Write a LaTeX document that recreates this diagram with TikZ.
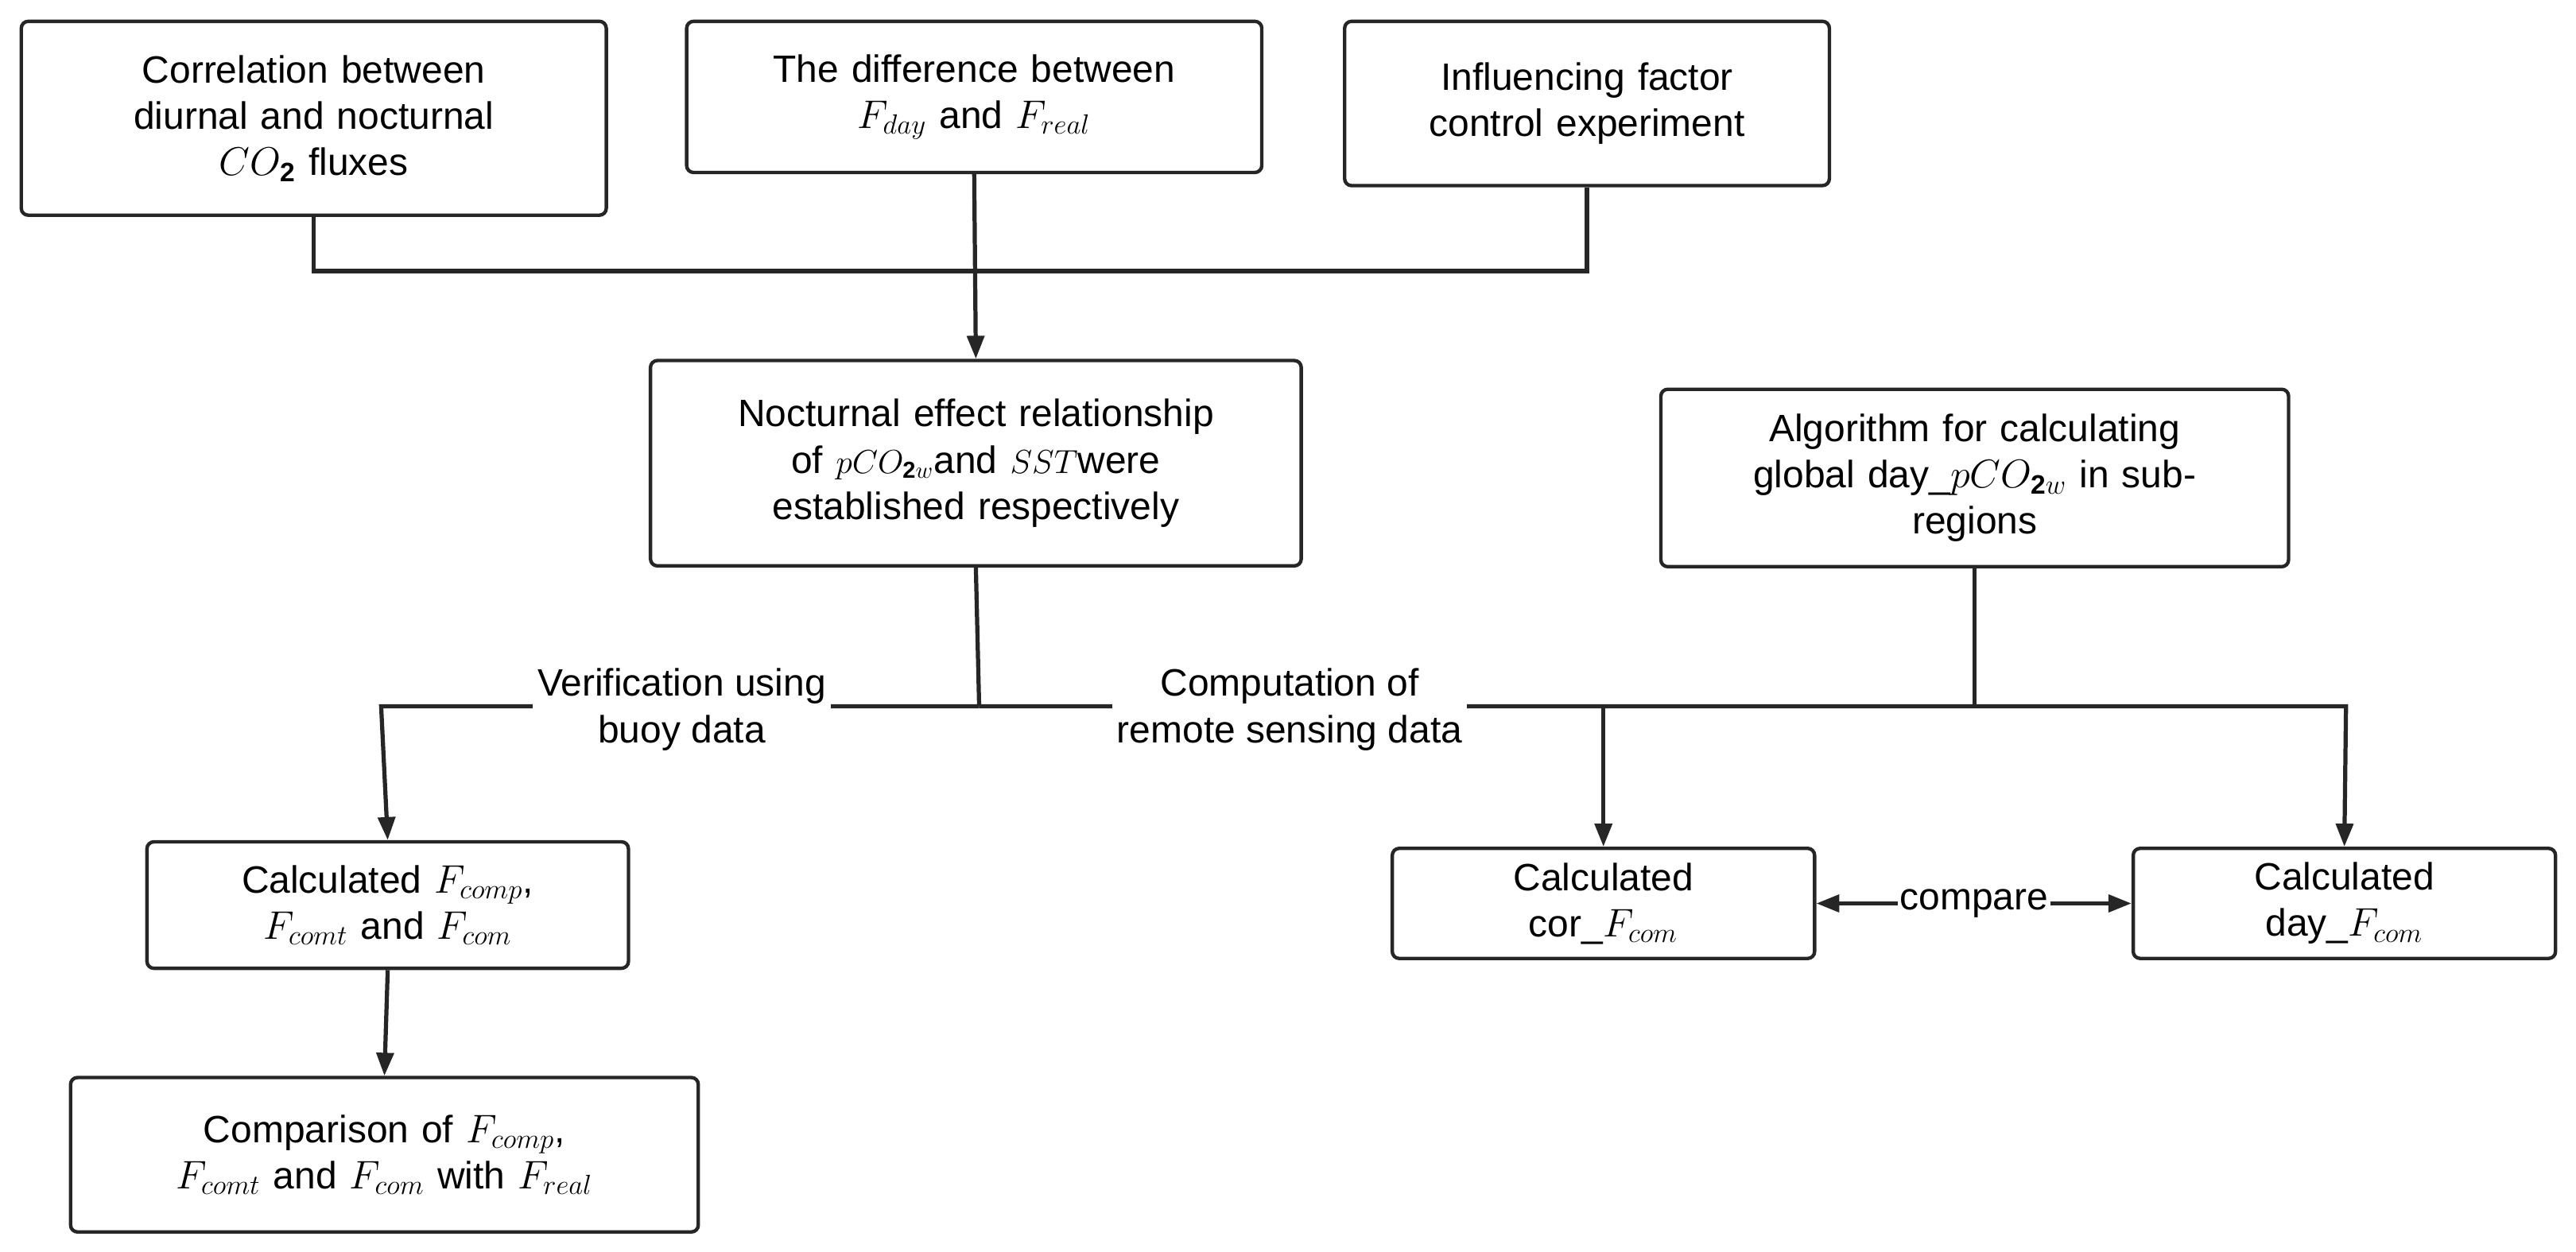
\documentclass[tikz,border=0pt]{standalone}
\usepackage{fontspec}
\setmainfont{Liberation Sans}
\usetikzlibrary{arrows.meta}
\begin{document}
\begin{tikzpicture}[x=0.025cm,y=-0.025cm,
  box/.style={draw=black!85,line width=1.5pt,rounded corners=3pt,align=center,inner sep=0pt,font=\fontsize{16.5}{20}\selectfont},
  ln/.style={draw=black!85,line width=1.8pt},
  arr/.style={ln,-{Triangle[length=0.35cm,width=0.26cm]}},
  lab/.style={fill=white,align=center,inner sep=2pt,font=\fontsize{16.5}{20}\selectfont}]
\useasboundingbox (0,0) rectangle (1568,762);
\node[box,minimum width=356\pgflinewidth,text width=8.2cm,minimum width=8.9cm,minimum height=2.95cm] (b1) at (191,72) {Correlation between\\diurnal and nocturnal\\$CO_{\mathbf{2}}$ fluxes};
\node[box,text width=8.2cm,minimum width=8.75cm,minimum height=2.3cm] (b2) at (593,59) {The difference between\\$F_{day}$ and $F_{real}$};
\node[box,text width=7cm,minimum width=7.375cm,minimum height=2.5cm] (b3) at (966,63) {Influencing factor\\control experiment};
\node[box,text width=9.5cm,minimum width=9.9cm,minimum height=3.125cm] (b4) at (594,282) {Nocturnal effect relationship\\of {\Large$pCO_{\mathbf{2}w}$}and {\Large$SST$}were\\established respectively};
\node[box,text width=9cm,minimum width=9.55cm,minimum height=2.7cm] (b5) at (1202,291) {Algorithm for calculating\\global day\_$pCO_{\mathbf{2}w}$ in sub-\\regions};
\node[box,text width=7cm,minimum width=7.325cm,minimum height=1.925cm] (b6) at (236,551) {Calculated $F_{comp}$,\\$F_{comt}$ and $F_{com}$};
\node[box,text width=9cm,minimum width=9.55cm,minimum height=2.35cm] (b9) at (234,703) {Comparison of $F_{comp}$,\\$F_{comt}$ and $F_{com}$ with $F_{real}$};
\node[box,text width=6cm,minimum width=6.425cm,minimum height=1.675cm] (b7) at (976,550) {Calculated\\cor\_$F_{com}$};
\node[box,text width=6cm,minimum width=6.425cm,minimum height=1.675cm] (b8) at (1427,550) {Calculated\\day\_$F_{com}$};
\coordinate (j1) at (593,165);
\coordinate (j2) at (596,430);
\coordinate (l) at (232,430);
\coordinate (r) at (1428,430);
\draw[ln] (b1.south) |- (j1) -| (b3.south);
\draw[arr] (b2.south) -- (b4.north);
\draw[ln] (b4.south) -- (j2);
\draw[arr] (j2) -- (l) -- (b6.north);
\draw[arr] (j2) -- (r) -- (b8.north);
\draw[arr] (b7.north |- j2) -- (b7.north);
\draw[ln] (b5.south) -- (b5.south |- j2);
\draw[arr] (b6.south) -- (b9.north);
\node[lab] (t1) at (415,432) {Verification using\\buoy data};
\node[lab] (t2) at (785,432) {Computation of\\remote sensing data};
\draw[arr,{Triangle[length=0.35cm,width=0.26cm]}-{Triangle[length=0.35cm,width=0.26cm]}] (b7.east) -- node[lab,inner sep=1pt] (cmp) {compare} (b8.west);
\end{tikzpicture}
\end{document}
